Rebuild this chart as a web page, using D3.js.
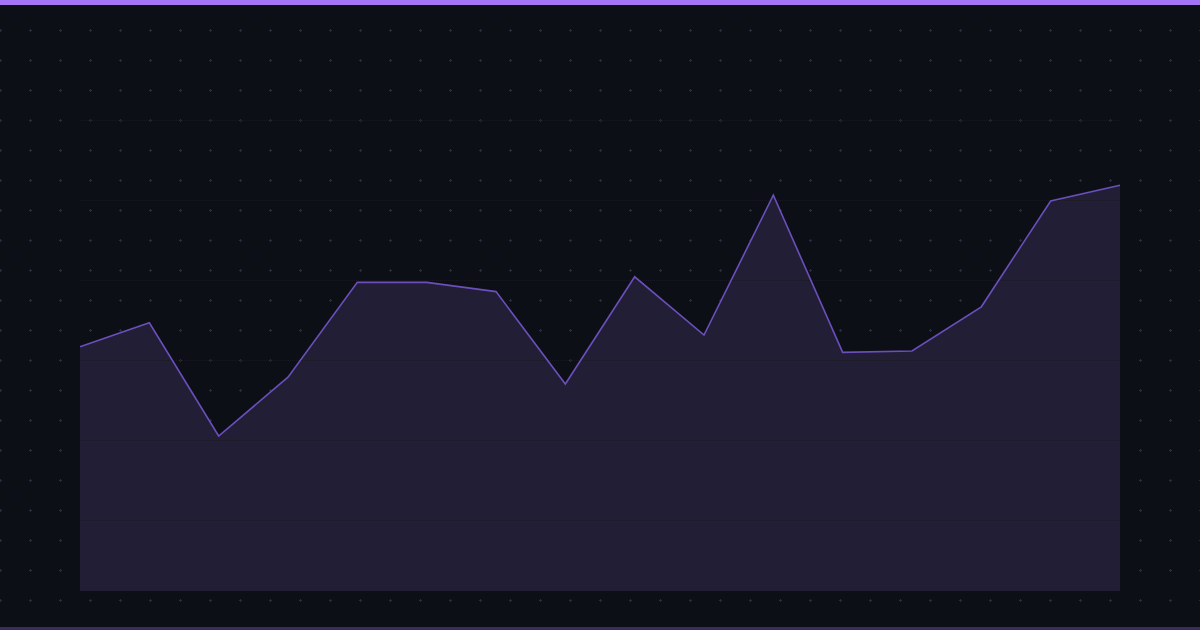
<!DOCTYPE html>
<html><head><meta charset="utf-8">
<script src="https://cdn.jsdelivr.net/npm/d3@7"></script>
<style>html,body{margin:0;padding:0;background:#0d0f17;}svg{display:block;}</style>
</head><body>
<script>
const categories = ["P1","P2","P3","P4","P5","P6","P7","P8","P9","P10","P11","P12","P13","P14","P15","P16"];
const values = [43.3,49.3,21,35.7,59.4,59.4,57.1,34,60.8,46.25,81.2,41.9,42.25,53.3,79.75,83.7];
const tickValues = [0,20,40,60,80,100];

const W=1200,H=630;
const svg=d3.select("body").append("svg").attr("width",W).attr("height",H);
svg.append("rect").attr("width",W).attr("height",H).attr("fill","#0d0f17");

const defs=svg.append("defs");
const pat=defs.append("pattern").attr("id","cross").attr("patternUnits","userSpaceOnUse")
  .attr("width",30).attr("height",30).attr("x",-15).attr("y",-15);
pat.append("rect").attr("x",14).attr("y",15).attr("width",3).attr("height",1).attr("fill","#2c2848");
pat.append("rect").attr("x",15).attr("y",14).attr("width",1).attr("height",3).attr("fill","#2c2848");
svg.append("rect").attr("x",0).attr("y",5).attr("width",W).attr("height",622).attr("fill","url(#cross)");

const x=d3.scalePoint().domain(categories).range([80,1120]);
const y=d3.scaleLinear().domain([-17.75,100]).range([591,120]);

const area=d3.area().x((d,i)=>x(categories[i])).y0(y(-17.75)).y1(d=>y(d));
const line=d3.line().x((d,i)=>x(categories[i])).y(d=>y(d));

svg.append("path").datum(values).attr("d",area).attr("fill","#221e36");

svg.append("g").selectAll("line").data(tickValues).join("line")
  .attr("x1",80).attr("x2",1120).attr("y1",d=>Math.round(y(d))+0.5).attr("y2",d=>Math.round(y(d))+0.5)
  .attr("stroke","#181722").attr("stroke-width",1).attr("stroke-dasharray","1 1");

svg.append("path").datum(values).attr("d",line).attr("fill","none")
  .attr("stroke","#6b4fbb").attr("stroke-width",1.6).attr("stroke-linejoin","miter");

svg.append("rect").attr("x",0).attr("y",0).attr("width",W).attr("height",5).attr("fill","#a374f5");
svg.append("rect").attr("x",0).attr("y",627).attr("width",W).attr("height",3).attr("fill","#3a2d5c");
</script>
</body></html>
